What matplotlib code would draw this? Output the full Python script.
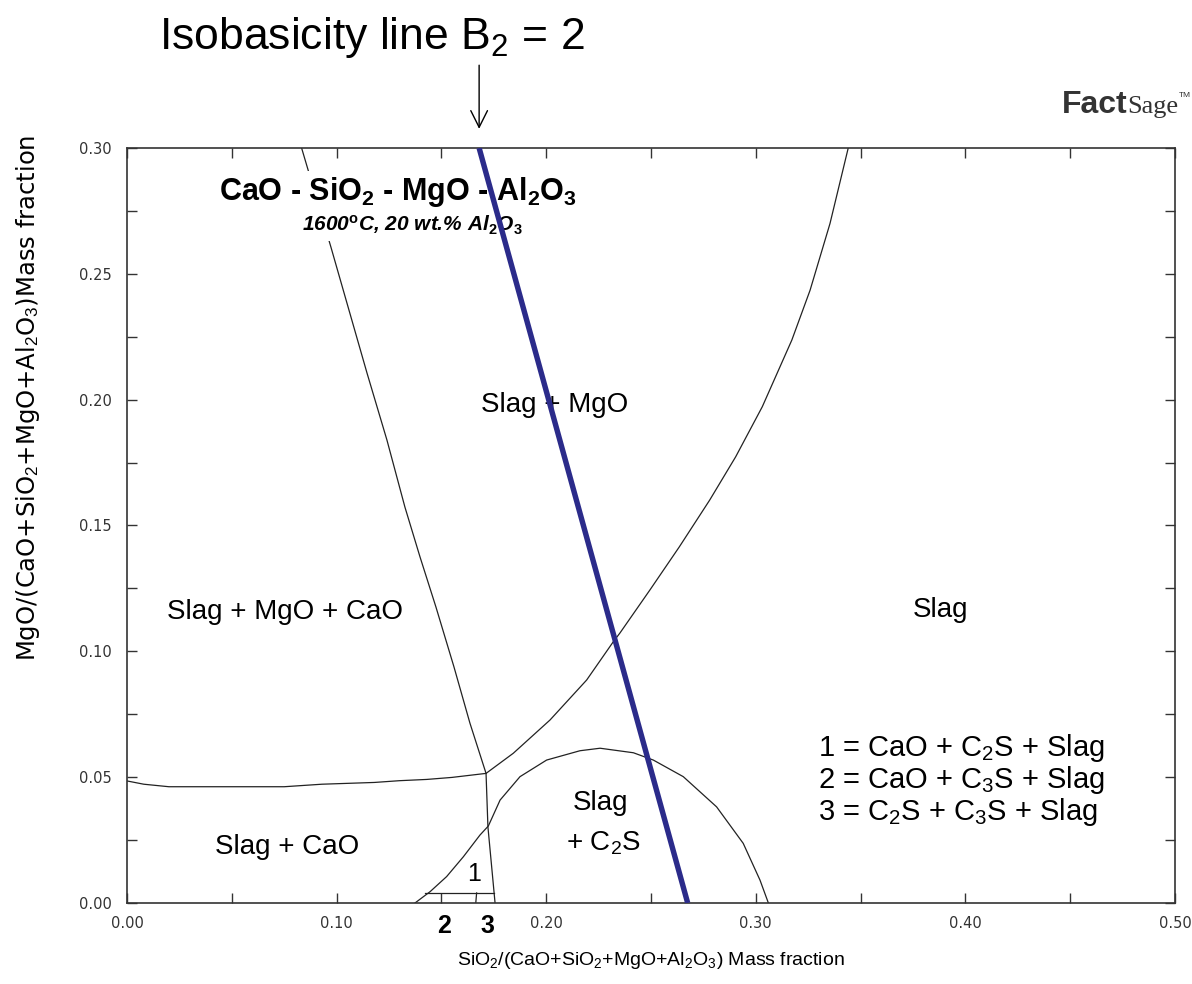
import matplotlib
matplotlib.use("Agg")
import matplotlib.pyplot as plt
from matplotlib.ticker import MultipleLocator, FormatStrFormatter

plt.rcParams["font.family"] = ["Liberation Sans", "DejaVu Sans"]
plt.rcParams["mathtext.fontset"] = "custom"
plt.rcParams["mathtext.rm"] = "Liberation Sans"
plt.rcParams["mathtext.it"] = "Liberation Sans:italic"
plt.rcParams["mathtext.bf"] = "Liberation Sans:bold"

# phase boundaries at 1600 C, 20 wt.% Al2O3 (x = SiO2 fraction, y = MgO fraction)
mgo_cao_x = [0.0833, 0.0973, 0.1145, 0.1240, 0.1326, 0.1398, 0.1474, 0.1560, 0.1636, 0.1713, 0.1722, 0.1756]
mgo_cao_y = [0.300, 0.2606, 0.2106, 0.1840, 0.1573, 0.1375, 0.1176, 0.0938, 0.0715, 0.0515, 0.0302, 0.000]

cao_sat_x = [0.000, 0.008, 0.020, 0.075, 0.093, 0.118, 0.130, 0.143, 0.155, 0.1713]
cao_sat_y = [0.0485, 0.0472, 0.0462, 0.0462, 0.0472, 0.0479, 0.0486, 0.0491, 0.0499, 0.0515]

mgo_sat_x = [0.1713, 0.1843, 0.2018, 0.2193, 0.2320, 0.2352, 0.2495, 0.2635, 0.2780,
             0.2904, 0.3031, 0.3172, 0.3259, 0.3354, 0.3441]
mgo_sat_y = [0.0515, 0.0595, 0.0727, 0.0886, 0.1038, 0.1073, 0.1244, 0.1415, 0.1601,
             0.1773, 0.1972, 0.2237, 0.2435, 0.2700, 0.3000]

c2s_x = [0.1374, 0.1446, 0.1525, 0.1605, 0.1684, 0.1724, 0.1780, 0.1875, 0.2002, 0.2161,
         0.2257, 0.2416, 0.2511, 0.2654, 0.2813, 0.2940, 0.3020, 0.3060]
c2s_y = [0.000, 0.0045, 0.0105, 0.0184, 0.0270, 0.0306, 0.0409, 0.0502, 0.0568, 0.0605,
         0.0615, 0.0597, 0.0568, 0.0502, 0.0382, 0.0237, 0.0091, 0.000]

field1_x = [0.1420, 0.1750]
field1_y = [0.0040, 0.0040]
field23_x = [0.1668, 0.1664]
field23_y = [0.0040, 0.000]

# CaO/SiO2 = 2 line
iso_x = [0.1680, 0.2675]
iso_y = [0.300, 0.000]

fields = [
    ("Slag + MgO", 0.2042, 0.1979),
    ("Slag + MgO + CaO", 0.0754, 0.1156),
    ("Slag", 0.3879, 0.1164),
    ("Slag", 0.2257, 0.0397),
    (r"+ C$_2$S", 0.2271, 0.0238),
    ("Slag + CaO", 0.0763, 0.0222),
]
legend_lines = [
    r"1 = CaO + C$_2$S + Slag",
    r"2 = CaO + C$_3$S + Slag",
    r"3 = C$_2$S + C$_3$S + Slag",
]
legend_y = [0.0616, 0.0489, 0.0362]

fig = plt.figure(figsize=(11.92, 9.84), dpi=100)
ax = fig.add_axes([127 / 1192, 81 / 984, 1048 / 1192, 755 / 984])

for xs, ys in [(mgo_cao_x, mgo_cao_y), (cao_sat_x, cao_sat_y), (mgo_sat_x, mgo_sat_y),
               (c2s_x, c2s_y), (field1_x, field1_y), (field23_x, field23_y)]:
    ax.plot(xs, ys, color="#222222", lw=0.9, zorder=2, solid_joinstyle="round")

ax.plot(iso_x, iso_y, color="#2b2b8a", lw=3.9, zorder=6, solid_capstyle="butt")

ax.set_xlim(0, 0.5)
ax.set_ylim(0, 0.3)
ax.xaxis.set_major_locator(MultipleLocator(0.1))
ax.xaxis.set_minor_locator(MultipleLocator(0.05))
ax.yaxis.set_major_locator(MultipleLocator(0.05))
ax.yaxis.set_minor_locator(MultipleLocator(0.025))
ax.xaxis.set_major_formatter(FormatStrFormatter("%.2f"))
ax.yaxis.set_major_formatter(FormatStrFormatter("%.2f"))
ax.tick_params(which="both", direction="in", top=True, right=True, length=7, width=1, color="#333333")
ax.tick_params(axis="x", which="major", pad=9, labelsize=10.5, labelcolor="#333333")
ax.tick_params(axis="y", which="major", pad=11, labelsize=10.5, labelcolor="#333333")
for lbl in ax.get_xticklabels() + ax.get_yticklabels():
    lbl.set_family("DejaVu Sans")
for sp in ax.spines.values():
    sp.set_linewidth(1.2)
    sp.set_color("#333333")

ax.set_xlabel(r"SiO$_2$/(CaO+SiO$_2$+MgO+Al$_2$O$_3$) Mass fraction", fontsize=14, labelpad=14)
fig.text(28 / 1192, 1 - 398 / 984, r"MgO/(CaO+SiO$_2$+MgO+Al$_2$O$_3$)Mass fraction",
         rotation=90, ha="center", va="center", fontsize=17.5, family="DejaVu Sans")

# system title with white box so phase boundaries stop at the text
ax.text(0.1293, 0.2825, r"CaO - SiO$_\mathbf{2}$ - MgO - Al$_\mathbf{2}$O$_\mathbf{3}$",
        ha="center", va="center", fontsize=22, fontweight="bold", zorder=4,
        bbox=dict(facecolor="white", edgecolor="none", pad=3))
ax.text(0.1360, 0.2694, r"1600$^{\mathbf{o}}$C, 20 wt.% Al$_\mathbf{2}$O$_\mathbf{3}$",
        ha="center", va="center", fontsize=15, fontweight="bold", fontstyle="italic", zorder=4,
        bbox=dict(facecolor="white", edgecolor="none", pad=3))

for label, x, y in fields:
    ax.text(x, y, label, ha="center", va="center", fontsize=20, zorder=4)

ax.text(0.1655, 0.0115, "1", ha="center", va="center", fontsize=18, zorder=4)
ax.text(0.1512, -0.0090, "2", ha="center", va="center", fontsize=18, fontweight="bold", clip_on=False)
ax.text(0.1718, -0.0090, "3", ha="center", va="center", fontsize=18, fontweight="bold", clip_on=False)

for line, y in zip(legend_lines, legend_y):
    ax.text(0.3297, y, line, ha="left", va="center", fontsize=21, zorder=4)

# headline and arrow pointing at the isobasicity line
fig.text(372 / 1192, 1 - 38 / 984, r"Isobasicity line B$_2$ = 2", ha="center", va="center", fontsize=32)
ax.annotate("", xy=(iso_x[0], 0.3065), xytext=(iso_x[0], 0.334), annotation_clip=False,
            arrowprops=dict(arrowstyle="->,head_length=0.6,head_width=0.3", lw=1.0,
                            color="black", mutation_scale=20))

# software logo
fig.text(1127 / 1192, 1 - 113 / 984, "Fact", ha="right", va="baseline", fontsize=23,
         fontweight="bold", color="#333333")
fig.text(1127 / 1192, 1 - 113 / 984, "Sage", ha="left", va="baseline", fontsize=19,
         family="Liberation Serif", color="#333333")
fig.text(1179 / 1192, 1 - 97 / 984, "TM", ha="left", va="baseline", fontsize=6, color="#333333")

fig.savefig("out.png", dpi=100)
